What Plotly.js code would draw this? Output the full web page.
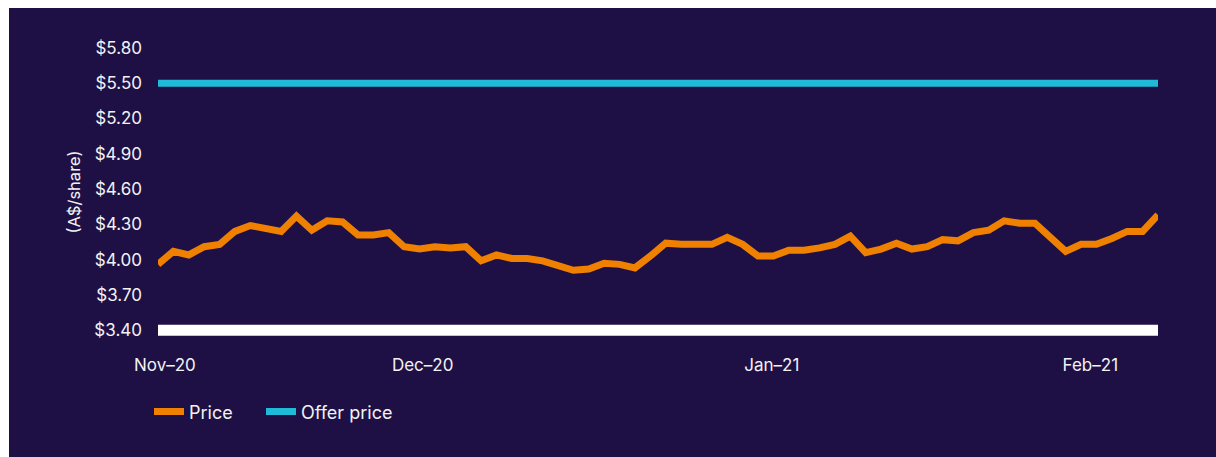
<!DOCTYPE html>
<html>
<head>
<meta charset="utf-8">
<script src="https://cdn.plot.ly/plotly-3.0.1.min.js"></script>
<style>
  html, body { margin: 0; padding: 0; background: #ffffff; width: 1216px; height: 457px; overflow: hidden; }
  #chart { position: absolute; left: 9px; top: 8px; width: 1207px; height: 449px; }
</style>
</head>
<body>
<div id="chart"></div>
<script>
// Trading-day index of each observation
const dayIndex = [
  0,1,2,3,4,5,6,7,8,9,10,11,12,13,14,15,16,17,18,19,20,21,
  22,23,24,25,26,27,28,29,30,31,32,33,34,35,36,37,38,39,40,41,42,43,
  44,45,46,47,48,49,50,51,52,53,54,55,56,57,58,59,60,61,62,63,64,65
];
// Share price (A$/share)
const price = [
  3.96, 4.07, 4.04, 4.11, 4.13, 4.24, 4.29, 4.27, 4.24, 4.37, 4.25,
  4.33, 4.32, 4.21, 4.21, 4.23, 4.11, 4.09, 4.11, 4.10, 4.11, 3.99,
  4.04, 4.01, 4.01, 3.99, 3.95, 3.91, 3.92, 3.97, 3.96, 3.93, 4.03,
  4.14, 4.13, 4.13, 4.13, 4.19, 4.13, 4.03, 4.03, 4.08, 4.08, 4.10,
  4.13, 4.20, 4.06, 4.09, 4.14, 4.09, 4.11, 4.17, 4.16, 4.23, 4.25,
  4.33, 4.31, 4.31, 4.18, 4.07, 4.13, 4.13, 4.18, 4.24, 4.24, 4.38
];
// Offer price (A$/share)
const offerPrice = [
  5.50, 5.50, 5.50, 5.50, 5.50, 5.50, 5.50, 5.50, 5.50, 5.50, 5.50,
  5.50, 5.50, 5.50, 5.50, 5.50, 5.50, 5.50, 5.50, 5.50, 5.50, 5.50,
  5.50, 5.50, 5.50, 5.50, 5.50, 5.50, 5.50, 5.50, 5.50, 5.50, 5.50,
  5.50, 5.50, 5.50, 5.50, 5.50, 5.50, 5.50, 5.50, 5.50, 5.50, 5.50,
  5.50, 5.50, 5.50, 5.50, 5.50, 5.50, 5.50, 5.50, 5.50, 5.50, 5.50,
  5.50, 5.50, 5.50, 5.50, 5.50, 5.50, 5.50, 5.50, 5.50, 5.50, 5.50
];
// Month tick labels and where they fall on the trading-day index
const monthLabels = ['Nov\u201320', 'Dec\u201320', 'Jan\u201321', 'Feb\u201321'];
const monthAt = [0.45, 17.2, 39.9, 60.6];
// Y ticks
const yTicks = [3.40, 3.70, 4.00, 4.30, 4.60, 4.90, 5.20, 5.50, 5.80];
const yTickText = yTicks.map(v => '$' + v.toFixed(2));

const FONT = 'Inter, "DejaVu Sans", sans-serif';
const TXT = '#f2f2f4';
const BG = '#1e1044';

const traces = [
  {
    x: dayIndex, y: price, name: 'Price', type: 'scatter', mode: 'lines',
    line: { color: '#f08000', width: 7 }, hoverinfo: 'skip', legend: 'legend'
  },
  {
    x: dayIndex, y: offerPrice, name: 'Offer price', type: 'scatter', mode: 'lines',
    line: { color: '#1fbad8', width: 7 }, hoverinfo: 'skip', legend: 'legend2'
  }
];

const legendBase = {
  orientation: 'h', xanchor: 'left', y: -0.233, yanchor: 'middle',
  font: { family: FONT, color: TXT, size: 18 },
  bgcolor: 'rgba(0,0,0,0)', itemclick: false, itemdoubleclick: false
};

const layout = {
  width: 1207, height: 449,
  margin: { l: 149, r: 58, t: 34, b: 115, pad: 0 },
  paper_bgcolor: BG, plot_bgcolor: BG,
  font: { family: FONT, color: TXT, size: 17 },
  showlegend: true,
  legend: Object.assign({}, legendBase, { x: -0.009 }),
  legend2: Object.assign({}, legendBase, { x: 0.103 }),
  xaxis: {
    type: 'linear', range: [dayIndex[0], dayIndex[dayIndex.length - 1]],
    tickvals: monthAt, ticktext: monthLabels, ticks: '',
    showgrid: false, zeroline: false, showline: false,
    tickfont: { family: FONT, color: TXT, size: 17 },
    ticklabelstandoff: 11, fixedrange: true
  },
  yaxis: {
    range: [3.30, 5.85],
    tickvals: yTicks, ticktext: yTickText, ticks: '',
    showgrid: false, zeroline: false, showline: false,
    tickfont: { family: FONT, color: TXT, size: 17 },
    ticklabelstandoff: 15,
    title: { text: '(A$/share)', font: { family: FONT, color: TXT, size: 16.5 }, standoff: 9 },
    fixedrange: true
  },
  shapes: [
    {
      type: 'line', xref: 'paper', yref: 'y', x0: 0, x1: 1, y0: yTicks[0], y1: yTicks[0],
      line: { color: '#ffffff', width: 11 }, layer: 'below'
    }
  ]
};

Plotly.newPlot('chart', traces, layout, { displayModeBar: false, staticPlot: true });
</script>
</body>
</html>
